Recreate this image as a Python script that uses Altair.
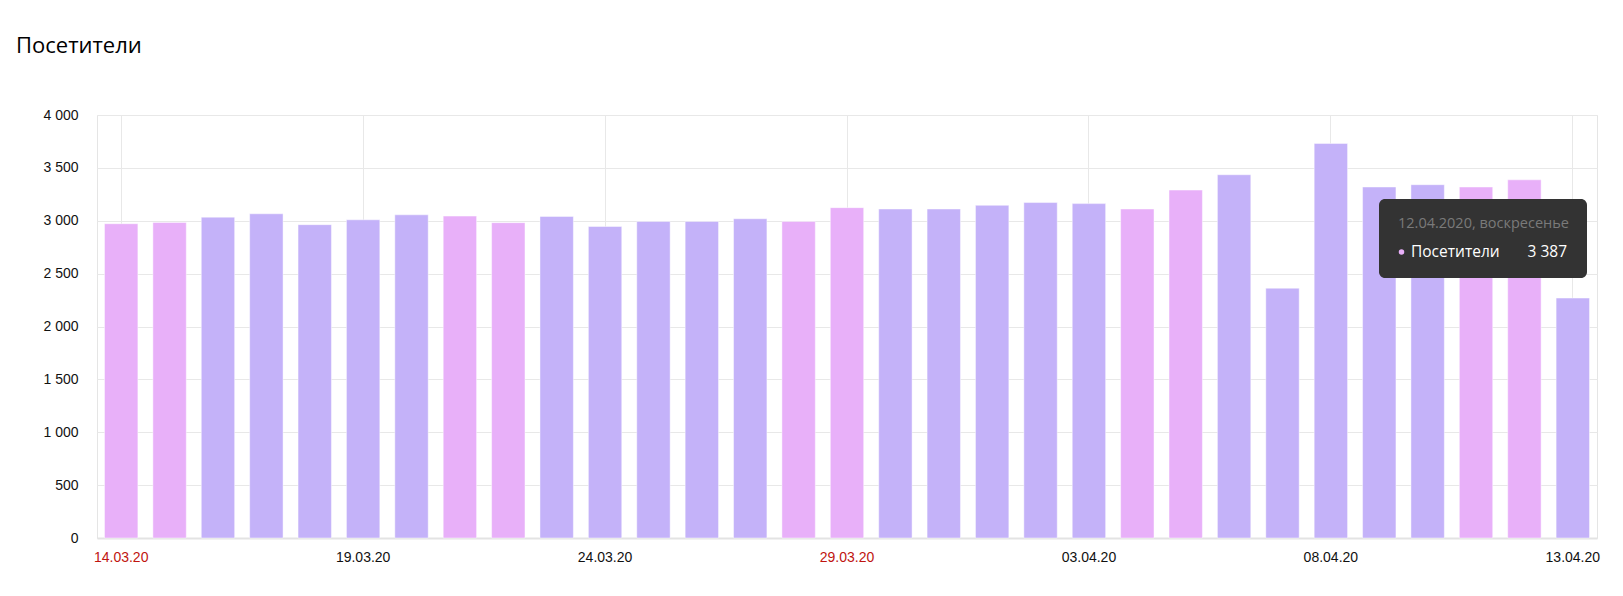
import json
import altair as alt
import pandas as pd

# ---- data ----
dates = [
    "14.03.20", "15.03.20", "16.03.20", "17.03.20", "18.03.20", "19.03.20", "20.03.20",
    "21.03.20", "22.03.20", "23.03.20", "24.03.20", "25.03.20", "26.03.20", "27.03.20",
    "28.03.20", "29.03.20", "30.03.20", "31.03.20", "01.04.20", "02.04.20", "03.04.20",
    "04.04.20", "05.04.20", "06.04.20", "07.04.20", "08.04.20", "09.04.20", "10.04.20",
    "11.04.20", "12.04.20", "13.04.20",
]
visitors = [
    2972, 2984, 3034, 3066, 2963, 3009, 3056,
    3044, 2982, 3041, 2946, 2994, 2994, 3019,
    2994, 3124, 3111, 3111, 3146, 3172, 3162,
    3111, 3290, 3435, 2362, 3731, 3319, 3341,
    3319, 3387, 2269,
]
weekend_days = [
    "14.03.20", "15.03.20", "21.03.20", "22.03.20", "28.03.20", "29.03.20",
    "04.04.20", "05.04.20", "11.04.20", "12.04.20",
]
tick_labels = ["14.03.20", "19.03.20", "24.03.20", "29.03.20", "03.04.20", "08.04.20", "13.04.20"]
y_ticks = [0, 500, 1000, 1500, 2000, 2500, 3000, 3500, 4000]
chart_title = "Посетители"
tooltip_day = "12.04.20"
tooltip_header = "12.04.2020, воскресенье"
series_name = "Посетители"

PINK = "#e8b0f9"
LAVENDER = "#c4b2f9"

df = pd.DataFrame({
    "date": dates,
    "visitors": visitors,
    "kind": ["weekend" if d in weekend_days else "weekday" for d in dates],
})

tip_value = visitors[dates.index(tooltip_day)]
tip_df = pd.DataFrame({
    "header": [tooltip_header],
    "series": [series_name],
    "value": [f"{tip_value:,}".replace(",", " ")],
})

W, H = 1500, 423
GRID = "#e8e8e8"

weekend_test = "indexof(" + json.dumps(weekend_days) + ", datum.value) >= 0"

bars = alt.Chart(df).mark_bar(stroke="#ffffff", strokeOpacity=0.45, strokeWidth=1).encode(
    x=alt.X(
        "date:N",
        sort=dates,
        scale=alt.Scale(paddingInner=0.31, paddingOuter=0.155),
        axis=alt.Axis(
            values=tick_labels,
            title=None,
            labelAngle=0,
            ticks=False,
            labelPadding=12,
            labelFontSize=14,
            labelFont="Liberation Sans",
            labelColor={"condition": {"test": weekend_test, "value": "#c0140f"}, "value": "#111111"},
            grid=True,
            gridColor=GRID,
            domainColor="#e3e3e3",
            domainWidth=2,
            bandPosition=0.5,
        ),
    ),
    y=alt.Y(
        "visitors:Q",
        scale=alt.Scale(domain=[0, 4000], nice=False),
        axis=alt.Axis(
            values=y_ticks,
            title=None,
            ticks=False,
            domain=False,
            labelPadding=19,
            labelFontSize=14,
            labelFont="Liberation Sans",
            labelColor="#111111",
            labelExpr="replace(format(datum.value, ','), ',', ' ')",
            gridColor=GRID,
        ),
    ),
    color=alt.Color(
        "kind:N",
        scale=alt.Scale(domain=["weekend", "weekday"], range=[PINK, LAVENDER]),
        legend=None,
    ),
)

box = alt.Chart(tip_df).mark_rect(fill="#333333", cornerRadius=6).encode(
    x=alt.value(1282), x2=alt.value(1490), y=alt.value(84), y2=alt.value(163)
)
t_header = alt.Chart(tip_df).mark_text(
    align="left", baseline="alphabetic", fontSize=14.5, font="Open Sans", color="#7a7a7a"
).encode(text="header:N", x=alt.value(1301), y=alt.value(113))
t_dot = alt.Chart(tip_df).mark_circle(size=30, color=PINK, opacity=1).encode(
    x=alt.value(1304.5), y=alt.value(137)
)
t_series = alt.Chart(tip_df).mark_text(
    align="left", baseline="alphabetic", fontSize=15.5, font="Open Sans", color="#ffffff"
).encode(text="series:N", x=alt.value(1314), y=alt.value(142))
t_value = alt.Chart(tip_df).mark_text(
    align="right", baseline="alphabetic", fontSize=15.5, font="Open Sans", color="#ffffff"
).encode(text="value:N", x=alt.value(1470), y=alt.value(142))

chart = alt.layer(bars, box, t_header, t_dot, t_series, t_value).properties(
    width=W,
    height=H,
    autosize=alt.AutoSizeParams(type="none"),
    padding={"left": 89, "top": 107, "right": 10, "bottom": 40},
    title=alt.TitleParams(
        text=chart_title,
        anchor="start",
        frame="group",
        dx=-81,
        offset=33,
        baseline="alphabetic",
        fontSize=22,
        font="Open Sans",
        fontWeight="normal",
        color="#000000",
    ),
).configure_view(stroke="#e5e5e5", strokeWidth=1)

chart.save("out.html", embed_options={"renderer": "svg", "actions": False})
